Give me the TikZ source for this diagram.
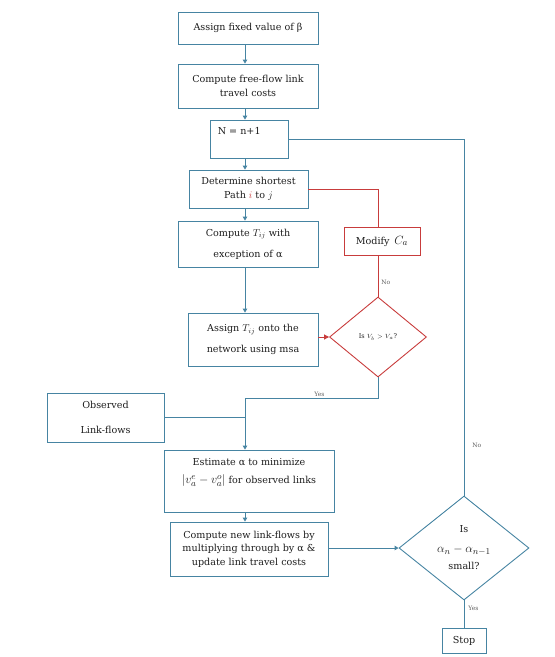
\documentclass[tikz,border=0pt]{standalone}
\usepackage{fontspec}
\setmainfont{DejaVu Serif}
\usetikzlibrary{arrows.meta,shapes.geometric}
\definecolor{bl}{RGB}{70,132,162}
\definecolor{rd}{RGB}{200,60,60}
\definecolor{tx}{RGB}{30,30,30}
\definecolor{lb}{RGB}{90,90,90}
\newcommand{\mybigmath}[1]{{\fontsize{13}{13}\selectfont$#1$}}
\begin{document}
\begin{tikzpicture}[x=1pt,y=-1pt,
  box/.style={draw=bl,line width=0.9pt,align=center,text=tx,font=\fontsize{9.6}{13.5}\selectfont,inner sep=1pt},
  rbox/.style={draw=rd,line width=0.9pt,align=center,text=tx,font=\fontsize{9.6}{13}\selectfont,inner sep=1pt},
  dia/.style={draw=#1,line width=0.9pt,diamond,align=center,text=tx,inner sep=0pt},
  conn/.style={draw=bl,line width=0.9pt},
  arr/.style={conn,-{Triangle[length=4pt,width=4.5pt]}},
  rconn/.style={draw=rd,line width=0.9pt},
  rarr/.style={rconn,-{Triangle[length=5pt,width=5pt]}},
  lab/.style={text=lb,font=\fontsize{6}{7}\selectfont,inner sep=0pt}]
\useasboundingbox (0,0) rectangle (555,657);
\node[box,minimum width=140pt,minimum height=32pt] (b1) at (248,28) {Assign fixed value of β};
\node[box,minimum width=140pt,minimum height=44pt] (b2) at (248,86) {Compute free-flow link\\travel costs};
\node[box,minimum width=78pt,minimum height=38pt,label={[anchor=north west,text=tx,font=\fontsize{9.6}{11}\selectfont,inner sep=0pt,xshift=8pt,yshift=-8pt]north west:{N = n+1}}] (b3) at (249,139) {};
\node[box,minimum width=119pt,minimum height=38pt] (b4) at (248.5,189) {Determine shortest\\Path {\color{rd}$i$} to $j$};
\node[box,minimum width=140pt,minimum height=46pt,font=\fontsize{9.6}{21}\selectfont] (b5) at (248,244) {Compute $T_{ij}$ with\\exception of α};
\node[rbox,minimum width=76pt,minimum height=28pt] (mod) at (382,241) {Modify \,\mybigmath{C_a}};
\node[dia=rd,minimum width=97pt,minimum height=80pt,aspect=1.2,font=\fontsize{6.5}{8}\selectfont] (d1) at (378,337) {Is $V_b > V_a$?};
\node[box,minimum width=130pt,minimum height=53pt,font=\fontsize{9.6}{21}\selectfont] (b6) at (253,339.5) {Assign $T_{ij}$ onto the\\network using msa};
\node[box,minimum width=117pt,minimum height=49pt,font=\fontsize{9.6}{25}\selectfont] (obs) at (105.5,417.5) {Observed\\Link-flows};
\node[box,minimum width=170pt,minimum height=62pt,font=\fontsize{9.6}{18}\selectfont] (est) at (249,481) {Estimate α to minimize\\\mybigmath{|v_a^e - v_a^o|} for observed links\\[2pt]\mbox{}};
\node[box,minimum width=158pt,minimum height=54pt] (cn) at (249,549) {Compute new link-flows by\\multiplying through by α \&\\update link travel costs};
\node[dia=bl,minimum width=130pt,minimum height=104pt,aspect=1.25,font=\fontsize{9.6}{17}\selectfont] (d2) at (464,548) {Is\\[3pt]\mybigmath{\alpha_n - \alpha_{n-1}}\\small?};
\node[box,minimum width=44pt,minimum height=25pt] (stop) at (464,640.5) {Stop};
\coordinate (j) at (245,398);
% main chain
\draw[arr] (b1.south -| 245,0) -- (b2.north -| 245,0);
\draw[arr] (b2.south -| 245,0) -- (b3.north -| 245,0);
\draw[arr] (b3.south -| 245,0) -- (b4.north -| 245,0);
\draw[arr] (b4.south -| 245,0) -- (b5.north -| 245,0);
\draw[arr] (b5.south -| 245,0) -- (b6.north -| 245,0);
% red loop
\draw[rconn] (b4.east) -| (d1.north |- mod.north);
\draw[rconn] (d1.north) -- (d1.north |- mod.south) node[lab,pos=0.35,right=3pt,text=lb] {No};
\draw[rarr] (b6.east |- d1.west) -- (d1.west);
% yes branch
\draw[conn] (d1.south) |- (j) node[lab,pos=0.72,above=0.5pt] {Yes};
\draw[arr] (j) -- (est.north -| j);
\draw[conn] (obs.east) -- (obs.east -| j);
\draw[arr] (est.south -| 245,0) -- (cn.north -| 245,0);
\draw[arr] (cn.east |- d2.west) -- (d2.west);
% outer loop
\draw[conn] (b3.east) -| (d2.north) node[lab,pos=0.93,right=8pt] {No};
\draw[conn] (d2.south) -- (stop.north) node[lab,pos=0.3,right=4pt] {Yes};
\end{tikzpicture}
\end{document}
